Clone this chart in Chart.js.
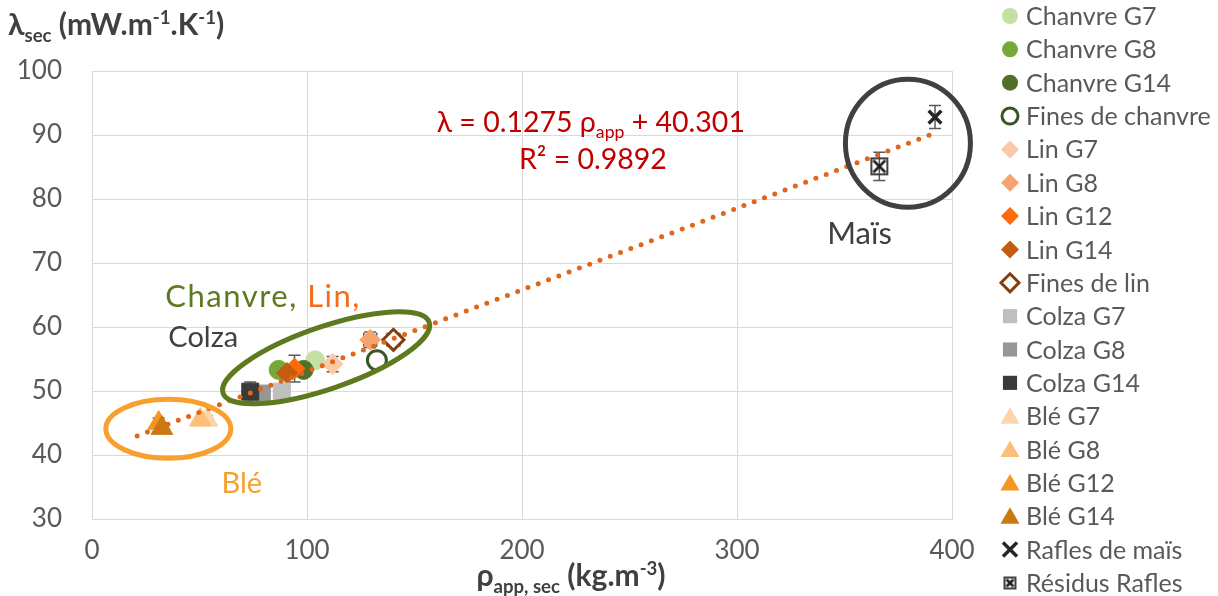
<!DOCTYPE html>
<html>
<head>
<meta charset="utf-8">
<script src="https://cdn.jsdelivr.net/npm/chart.js@4.4.1/dist/chart.umd.min.js"></script>
<style>
  html, body { margin: 0; padding: 0; background: #fff; }
  canvas { display: block; }
</style>
</head>
<body>
<canvas id="chart" width="1218" height="596"></canvas>
<script>
// one point per series (rho_app,sec ; lambda_sec)
const seriesNames = ["Chanvre G7", "Chanvre G8", "Chanvre G14", "Fines de chanvre",
  "Lin G7", "Lin G8", "Lin G12", "Lin G14", "Fines de lin",
  "Colza G7", "Colza G8", "Colza G14",
  "Blé G7", "Blé G8", "Blé G12", "Blé G14",
  "Rafles de maïs", "Résidus Rafles"];
const rhoValues    = [103.8, 86.8, 98.4, 132.5, 111.9, 129.4, 94.2, 90.7, 140.2, 88.3, 79.0, 73.6, 53.5, 50.4, 31.0, 32.5, 392.1, 366.2];
const lambdaValues = [54.8, 53.3, 53.3, 54.8, 54.2, 58.0, 53.5, 52.8, 58.0, 49.9, 49.6, 49.9, 45.5, 45.5, 45.0, 44.2, 92.8, 85.1];
const lambdaErrors = [0, 0, 0, 0.9, 1.2, 1.2, 2.1, 0, 0.9, 0, 0, 1.5, 0.6, 0, 0.8, 0.8, 1.8, 2.2];
const rhoErrors    = [0, 0, 0, 3, 0, 3, 0, 0, 3, 0, 0, 0, 0, 0, 0, 0, 0, 0];

// trend line end points (lambda = 0.1275 rho + 40.301)
const trendRho = [21, 392.5];
const trendLambda = [42.98, 90.35];

const xTicks = [0, 100, 200, 300, 400];
const yTicks = [30, 40, 50, 60, 70, 80, 90, 100];

// styles
const fills   = ["#c5e0a3", "#77a83a", "#53702a", "#ffffff", "#f9c9a8", "#f6a46f", "#ff6a0d", "#c55a11", "#ffffff",
  "#bfbfbf", "#979797", "#3a3a3a", "#fcd6a8", "#fbbf7a", "#f7961e", "#c97a12", "#262626", "#ffffff"];
const borders = ["#c5e0a3", "#77a83a", "#53702a", "#375623", "#f9c9a8", "#f6a46f", "#ff6a0d", "#c55a11", "#843c0c",
  "#bfbfbf", "#979797", "#3a3a3a", "#fcd6a8", "#fbbf7a", "#f7961e", "#c97a12", "#262626", "#404040"];
const shapes  = ["circle", "circle", "circle", "circle", "rectRot", "rectRot", "rectRot", "rectRot", "rectRot",
  "rect", "rect", "rect", "triangle", "triangle", "triangle", "triangle", "crossRot", "boxX"];

const FONT = 'Lato, "DejaVu Sans", sans-serif';
const GREY = "#595959";
const DARK = "#404040";

function boxX(size) {
  const c = document.createElement("canvas");
  c.width = size; c.height = size;
  const g = c.getContext("2d");
  g.strokeStyle = "#404040"; g.lineWidth = 2;
  g.strokeRect(2, 2, size - 4, size - 4);
  g.strokeStyle = "#1a1a1a"; g.lineWidth = 2.5;
  g.beginPath();
  g.moveTo(4, 4); g.lineTo(size - 4, size - 4);
  g.moveTo(size - 4, 4); g.lineTo(4, size - 4);
  g.stroke();
  return c;
}
const boxXChart = boxX(20);
const boxXLegend = boxX(15);

function radiusFor(shape) {
  return { circle: 9.5, rectRot: 10.5, rect: 12, triangle: 12.5, crossRot: 9, boxX: 10 }[shape];
}

const datasets = seriesNames.map((name, i) => ({
  label: name,
  data: [{ x: rhoValues[i], y: lambdaValues[i] }],
  pointStyle: shapes[i] === "boxX" ? boxXChart : shapes[i],
  pointRadius: radiusFor(shapes[i]),
  backgroundColor: fills[i],
  borderColor: borders[i],
  pointBorderWidth: (i === 3 || i === 8) ? 3 : (shapes[i] === "crossRot" ? 3.5 : 1),
  order: -i
}));

datasets.push({
  type: "line",
  label: "trend",
  data: trendRho.map((x, i) => ({ x: x, y: trendLambda[i] })),
  showLine: true,
  borderColor: "#e0661c",
  borderWidth: 5,
  borderDash: [0, 11],
  borderCapStyle: "round",
  pointRadius: 0,
  fill: false,
  order: -100
});

// annotation shapes, centres in data units, radii in pixels
const ellipses = [
  { cx: 379.5, cy: 88.7, rx: 62.5, ry: 64, rot: 0, color: "#404040" },
  { cx: 108.9, cy: 55.2, rx: 109, ry: 31, rot: -19, color: "#5e7a1e" },
  { cx: 35.5, cy: 44.1, rx: 62.5, ry: 29.5, rot: 0, color: "#f7a030" }
];

function drawMarker(ctx, shape, x, y, r, fill, stroke, bw) {
  ctx.save();
  ctx.fillStyle = fill; ctx.strokeStyle = stroke; ctx.lineWidth = bw;
  ctx.beginPath();
  if (shape === "circle") {
    ctx.arc(x, y, r, 0, 2 * Math.PI);
  } else if (shape === "rectRot") {
    ctx.moveTo(x, y - r); ctx.lineTo(x + r, y); ctx.lineTo(x, y + r); ctx.lineTo(x - r, y); ctx.closePath();
  } else if (shape === "rect") {
    const s = r * Math.SQRT1_2;
    ctx.rect(x - s, y - s, 2 * s, 2 * s);
  } else if (shape === "triangle") {
    let a = 0;
    ctx.moveTo(x + Math.sin(a) * r, y - Math.cos(a) * r);
    a += 2 * Math.PI / 3; ctx.lineTo(x + Math.sin(a) * r, y - Math.cos(a) * r);
    a += 2 * Math.PI / 3; ctx.lineTo(x + Math.sin(a) * r, y - Math.cos(a) * r);
    ctx.closePath();
  } else if (shape === "crossRot") {
    ctx.moveTo(x - r, y - r); ctx.lineTo(x + r, y + r);
    ctx.moveTo(x + r, y - r); ctx.lineTo(x - r, y + r);
    ctx.stroke(); ctx.restore(); return;
  } else if (shape === "boxX") {
    ctx.drawImage(boxXLegend, x - boxXLegend.width / 2, y - boxXLegend.height / 2);
    ctx.restore(); return;
  }
  ctx.fill();
  if (bw > 0) ctx.stroke();
  ctx.restore();
}

// rich text: parts = [[text, kind]], kind '' | 'sub' | 'sup'
function richWidth(ctx, parts, size, weight) {
  let w = 0;
  parts.forEach(([t, k]) => {
    const s = k ? size * 0.62 : size;
    ctx.font = weight + " " + s + "px " + FONT;
    w += ctx.measureText(t).width;
  });
  return w;
}
function drawRich(ctx, parts, x, y, size, weight, color, align) {
  ctx.save();
  ctx.fillStyle = color;
  ctx.textBaseline = "alphabetic";
  ctx.textAlign = "left";
  let cx = x;
  if (align === "center") cx = x - richWidth(ctx, parts, size, weight) / 2;
  parts.forEach(([t, k]) => {
    const s = k ? size * 0.62 : size;
    ctx.font = weight + " " + s + "px " + FONT;
    const dy = k === "sub" ? size * 0.22 : (k === "sup" ? -size * 0.38 : 0);
    ctx.fillText(t, cx, y + dy);
    cx += ctx.measureText(t).width;
  });
  ctx.restore();
}

const overlay = {
  id: "overlay",
  beforeDatasetsDraw(chart) {
    const { ctx, scales: { x, y } } = chart;
    ctx.save();
    ctx.strokeStyle = GREY;
    ctx.lineWidth = 1.5;
    rhoValues.forEach((rv, i) => {
      const px = x.getPixelForValue(rv), py = y.getPixelForValue(lambdaValues[i]);
      ctx.beginPath();
      if (lambdaErrors[i] > 0) {
        const t = y.getPixelForValue(lambdaValues[i] + lambdaErrors[i]);
        const b = y.getPixelForValue(lambdaValues[i] - lambdaErrors[i]);
        ctx.moveTo(px, t); ctx.lineTo(px, b);
        ctx.moveTo(px - 6, t); ctx.lineTo(px + 6, t);
        ctx.moveTo(px - 6, b); ctx.lineTo(px + 6, b);
      }
      if (rhoErrors[i] > 0) {
        const l = x.getPixelForValue(rv - rhoErrors[i]);
        const r = x.getPixelForValue(rv + rhoErrors[i]);
        ctx.moveTo(l, py); ctx.lineTo(r, py);
        ctx.moveTo(l, py - 7); ctx.lineTo(l, py + 7);
        ctx.moveTo(r, py - 7); ctx.lineTo(r, py + 7);
      }
      ctx.stroke();
    });
    ctx.restore();
  },
  afterDatasetsDraw(chart) {
    const { ctx, scales: { x, y } } = chart;
    ctx.save();
    ellipses.forEach(e => {
      ctx.beginPath();
      ctx.ellipse(x.getPixelForValue(e.cx), y.getPixelForValue(e.cy), e.rx, e.ry, e.rot * Math.PI / 180, 0, 2 * Math.PI);
      ctx.strokeStyle = e.color;
      ctx.lineWidth = 5;
      ctx.stroke();
    });
    ctx.restore();
  },
  afterDraw(chart) {
    const { ctx, scales: { x, y } } = chart;
    // axis titles
    drawRich(ctx, [["λ", ""], ["sec", "sub"], [" (mW.m", ""], ["-1", "sup"], [".K", ""], ["-1", "sup"], [")", ""]],
      8, 35, 30, "bold", DARK, "left");
    drawRich(ctx, [["ρ", ""], ["app, sec", "sub"], [" (kg.m", ""], ["-3", "sup"], [")", ""]],
      571, 586, 30, "bold", DARK, "center");

    // equation
    drawRich(ctx, [["λ = 0.1275 ρ", ""], ["app", "sub"], [" + 40.301", ""]],
      x.getPixelForValue(232), y.getPixelForValue(90.5), 28.5, "normal", "#c00000", "center");
    drawRich(ctx, [["R² = 0.9892", ""]],
      x.getPixelForValue(233), y.getPixelForValue(84.7), 28.5, "normal", "#c00000", "center");

    // group labels
    ctx.save();
    ctx.textBaseline = "middle";
    ctx.textAlign = "left";
    ctx.fillStyle = DARK;
    ctx.font = "31px " + FONT;
    ctx.fillText("Maïs", x.getPixelForValue(342), y.getPixelForValue(74.5));
    ctx.font = "29px " + FONT;
    ctx.fillText("Colza", x.getPixelForValue(35.5), y.getPixelForValue(58.3));
    ctx.font = "31px " + FONT;
    ctx.letterSpacing = "1.5px";
    ctx.fillStyle = "#5e7a1e";
    const cx0 = x.getPixelForValue(34.1), cy0 = y.getPixelForValue(64.7);
    ctx.fillText("Chanvre, ", cx0, cy0);
    ctx.fillStyle = "#f46b1c";
    ctx.fillText("Lin,", cx0 + ctx.measureText("Chanvre, ").width, cy0);
    ctx.letterSpacing = "0px";
    ctx.font = "29px " + FONT;
    ctx.fillStyle = "#f7a030";
    ctx.fillText("Blé", x.getPixelForValue(60.2), y.getPixelForValue(35.5));
    ctx.restore();

    // legend
    ctx.save();
    ctx.font = "25px " + FONT;
    ctx.textBaseline = "middle";
    ctx.textAlign = "left";
    seriesNames.forEach((name, i) => {
      const ly = 16 + i * 33.35;
      const s = shapes[i];
      const lr = { circle: 8, rectRot: 9, rect: 10, triangle: 11, crossRot: 7, boxX: 7 }[s];
      const bw = (i === 3 || i === 8) ? 3 : (s === "crossRot" ? 3.5 : 0);
      drawMarker(ctx, s, 1010, ly + (s === "triangle" ? 2 : 0), lr, fills[i], borders[i], bw);
      ctx.fillStyle = GREY;
      ctx.fillText(name, 1026, ly + 1);
    });
    ctx.restore();
  }
};

new Chart(document.getElementById("chart"), {
  type: "scatter",
  data: { datasets: datasets },
  options: {
    responsive: false,
    animation: false,
    layout: { padding: { left: 0, top: 71, right: 266, bottom: 0 } },
    plugins: { legend: { display: false }, tooltip: { enabled: false } },
    scales: {
      x: {
        type: "linear",
        min: xTicks[0],
        max: xTicks[xTicks.length - 1],
        afterBuildTicks: s => { s.ticks = xTicks.map(v => ({ value: v })); },
        afterFit: s => { s.height = 77; },
        grid: { color: "#d9d9d9", lineWidth: 1, drawTicks: false },
        border: { color: "#d9d9d9" },
        ticks: { color: GREY, font: { family: FONT, size: 26 }, padding: 16 }
      },
      y: {
        type: "linear",
        min: yTicks[0],
        max: yTicks[yTicks.length - 1],
        afterBuildTicks: s => { s.ticks = yTicks.map(v => ({ value: v })); },
        afterFit: s => { s.width = 92; },
        grid: { color: "#d9d9d9", lineWidth: 1, drawTicks: false },
        border: { color: "#d9d9d9" },
        ticks: { color: GREY, font: { family: FONT, size: 26 }, padding: 30 }
      }
    }
  },
  plugins: [overlay]
});
</script>
</body>
</html>
